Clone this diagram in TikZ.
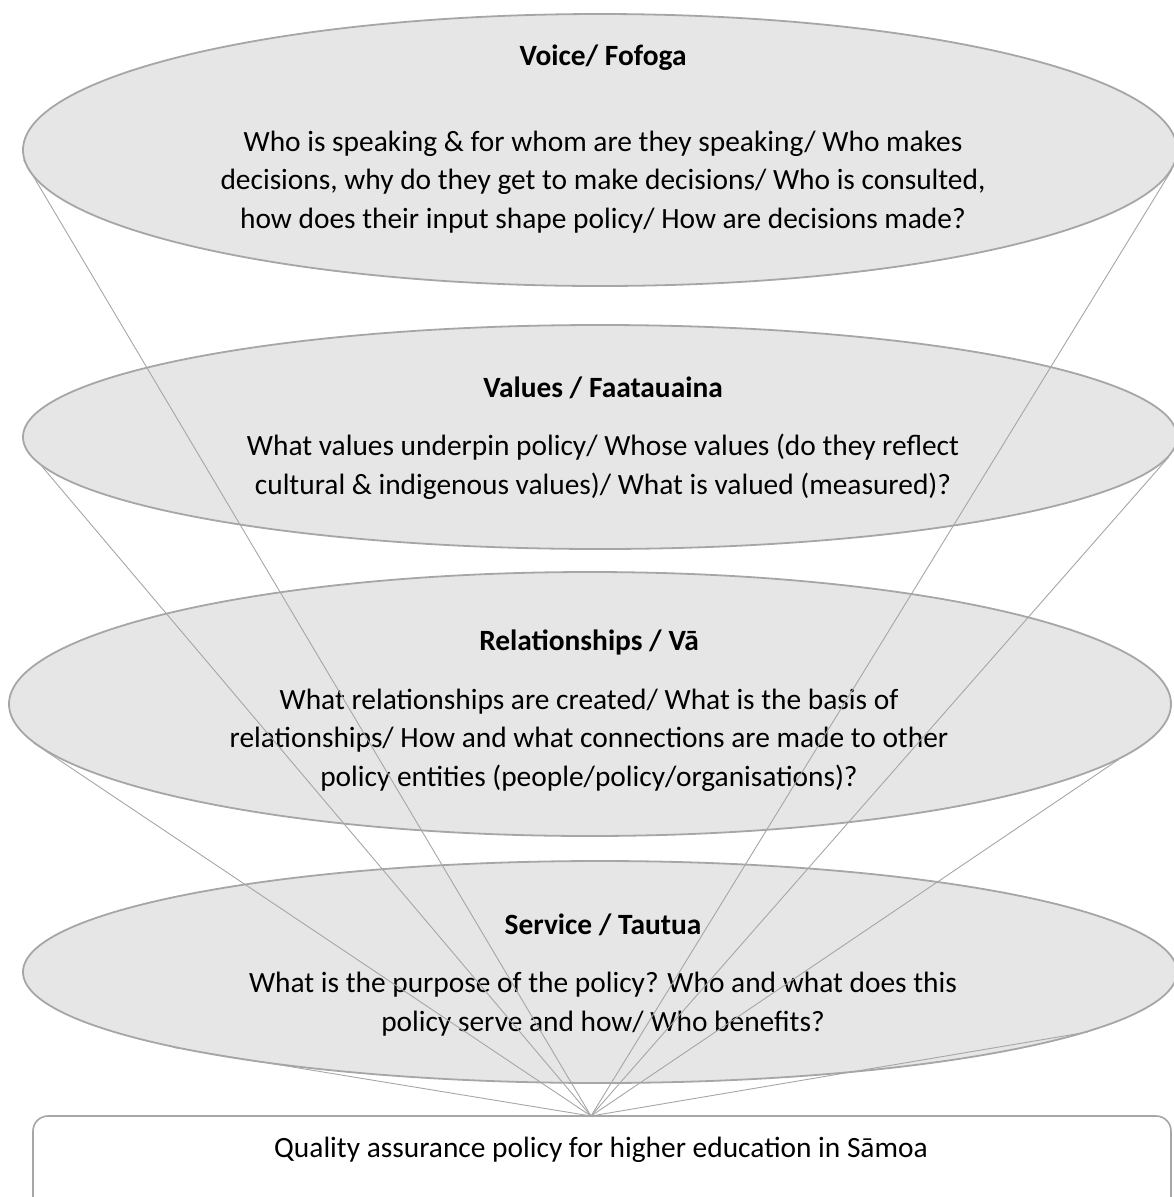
\documentclass[tikz,border=0pt]{standalone}
\usepackage{fontspec}
\setmainfont{Carlito}
\usetikzlibrary{shapes.geometric}
\definecolor{rim}{HTML}{A6A6A6}
\definecolor{shade}{HTML}{E6E6E6}
\begin{document}
\begin{tikzpicture}[x=1pt,y=-1pt]\tikzset{layer/.style = {shape=ellipse, draw=rim, fill=shade, line width=1.8pt, inner sep=0pt}, heading/.style = {font=\fontsize{29.4}{38.6}\selectfont\bfseries}, question/.style = {align=center, font=\fontsize{29.4}{38.6}\selectfont}, spoke/.style = {draw=rim, line width=0.9pt}}

		\useasboundingbox (0,0) rectangle (1174,1197);

		\node[layer, minimum width=1154pt, minimum height=272pt] (voice) at (600,150) {};
		\node[layer, minimum width=1154pt, minimum height=224pt] (values) at (600,437) {};
		\node[layer, minimum width=1162pt, minimum height=264pt] (relation) at (590,704) {};
		\node[layer, minimum width=1154pt, minimum height=222pt] (service) at (600,972) {};
		\node[draw=rim, line width=1.6pt, rounded corners=15pt, minimum width=1138pt, minimum height=100pt] (policy) at (602,1166) {};

		\node[heading] (voicehead) at (603,58) {Voice/ Fofoga};
		\node[question] (voicetext) at (603,182) {Who is speaking \& for whom are they speaking/ Who makes\\decisions, why do they get to make decisions/ Who is consulted,\\how does their input shape policy/ How are decisions made?};
		\node[heading] (valueshead) at (603,388) {Values / Faatauaina};
		\node[question] (valuestext) at (603,467) {What values underpin policy/ Whose values (do they reflect\\cultural \& indigenous values)/ What is valued (measured)?};
		\node[heading] (relationhead) at (589,642) {Relationships / Vā};
		\node[question] (relationtext) at (589,740) {What relationships are created/ What is the basis of\\relationships/ How and what connections are made to other\\policy entities (people/policy/organisations)?};
		\node[heading] (servicehead) at (603,925) {Service / Tautua};
		\node[question] (servicetext) at (603,1004) {What is the purpose of the policy? Who and what does this\\policy serve and how/ Who benefits?};
		\node[question] (policytext) at (601,1150) {Quality assurance policy for higher education in Sāmoa};

		\coordinate (apex) at (591,1116);

		\draw[spoke] (voice.181.5) -- (apex) -- (voice.-2.5);
		\draw[spoke] (values.183) -- (apex) -- (values.-2);
		\draw[spoke] (relation.184) -- (apex) -- (relation.-6.7);
		\draw[spoke] (service.190) -- (apex) -- (service.-7.8);
	\end{tikzpicture}
\end{document}
